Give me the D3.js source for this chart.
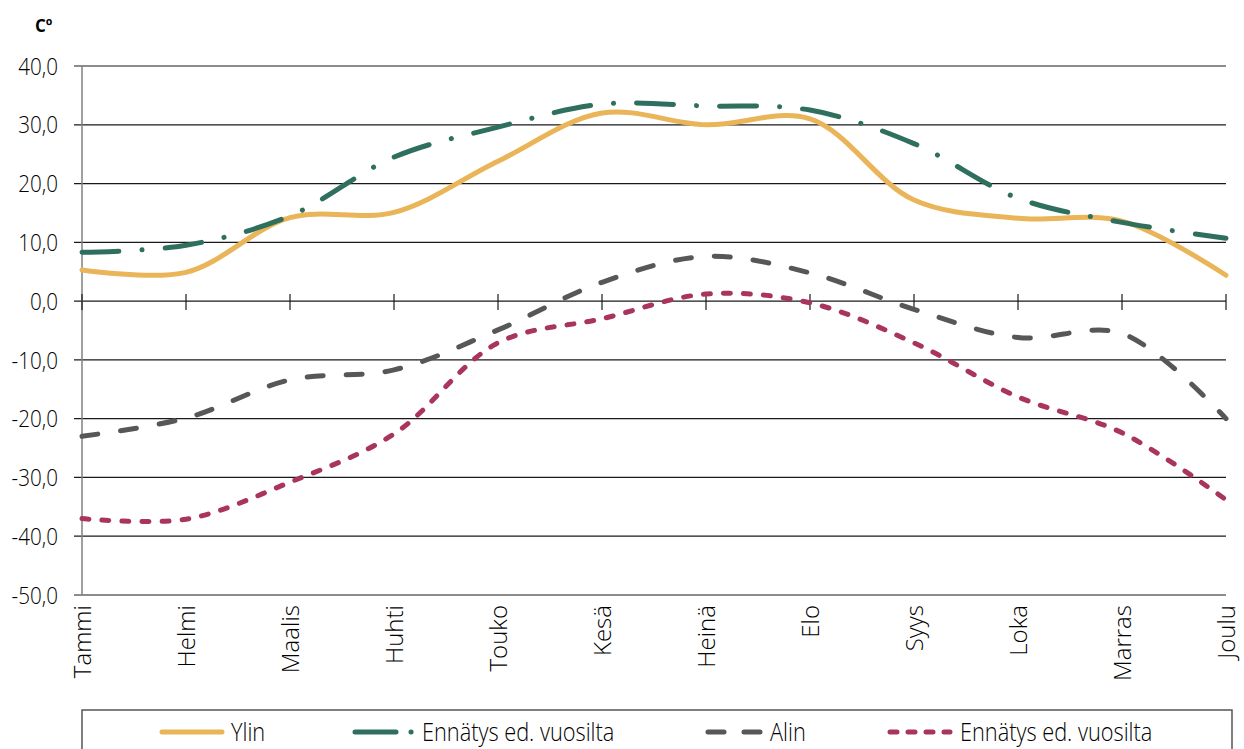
<!DOCTYPE html>
<html>
<head>
<meta charset="utf-8">
<script src="https://cdn.jsdelivr.net/npm/d3@7"></script>
<style>
  body { margin: 0; background: #fff; }
  text { font-family: "Open Sans", "Noto Sans", sans-serif; font-weight: 300; }
</style>
</head>
<body>
<div id="chart"></div>
<script>
// months and series values (deg C)
const months = ["Tammi", "Helmi", "Maalis", "Huhti", "Touko", "Kesä", "Heinä", "Elo", "Syys", "Loka", "Marras", "Joulu"];
const ylin = [5.3, 4.9, 14.2, 15.1, 23.8, 32.0, 30.0, 31.0, 17.2, 14.1, 13.6, 4.4];
const ennatysYla = [8.3, 9.5, 14.5, 24.5, 29.6, 33.5, 33.2, 32.5, 26.8, 17.5, 13.4, 10.7];
const alin = [-23.0, -19.9, -13.4, -11.7, -4.9, 3.2, 7.6, 4.8, -1.4, -6.2, -5.5, -20.0];
const ennatysAla = [-37.0, -37.1, -30.8, -22.6, -7.1, -3.0, 1.2, -0.3, -7.1, -16.3, -22.4, -33.8];
const yTicks = [40, 30, 20, 10, 0, -10, -20, -30, -40, -50];

const series = [
  {name: "Ylin", values: ylin, color: "#EAB459", dash: null},
  {name: "Ennätys ed. vuosilta", values: ennatysYla, color: "#2F6F5E", dash: "37 23 0.1 23"},
  {name: "Alin", values: alin, color: "#575757", dash: "16 23"},
  {name: "Ennätys ed. vuosilta", values: ennatysAla, color: "#A8345F", dash: "7 13"}
];

const W = 1244, H = 749;
const margin = {top: 66, right: 18, bottom: 154, left: 82};
const width = W - margin.left - margin.right,
      height = H - margin.top - margin.bottom;

const svg = d3.select("#chart").append("svg")
    .attr("width", W).attr("height", H);
const g = svg.append("g")
    .attr("transform", `translate(${margin.left}, ${margin.top})`);

const x = d3.scalePoint().domain(months).range([0, width]);
const y = d3.scaleLinear().domain([-50, 40]).range([height, 0]);

// gridlines + left ticks
g.selectAll(".grid")
  .data(yTicks)
  .join("line")
    .attr("x1", -8).attr("x2", width)
    .attr("y1", d => y(d)).attr("y2", d => y(d))
    .attr("stroke", "#1a1a1a").attr("stroke-width", 1.2);

// tick labels, a bit condensed like the original font
g.selectAll(".ylab")
  .data(yTicks)
  .join("text")
    .attr("transform", d => `translate(-24, ${y(d)}) scale(0.86, 1)`)
    .attr("dy", "0.36em")
    .attr("text-anchor", "end")
    .style("font-size", "24px").attr("fill", "#000")
    .text(d => d3.format(".1f")(d).replace(".", ",").replace("−", "-"));

// y axis line
g.append("line")
  .attr("x1", 0).attr("x2", 0).attr("y1", 0).attr("y2", height)
  .attr("stroke", "#808080").attr("stroke-width", 1.5);

// x ticks crossing the zero line
g.selectAll(".xtick")
  .data(months)
  .join("line")
    .attr("x1", d => x(d)).attr("x2", d => x(d))
    .attr("y1", y(0) - 7).attr("y2", y(0) + 9)
    .attr("stroke", "#1a1a1a").attr("stroke-width", 1.2);

// month labels, rotated
g.selectAll(".xlab")
  .data(months)
  .join("text")
    .attr("transform", d => `translate(${x(d) + 9}, ${height + 10}) rotate(-90)`)
    .attr("text-anchor", "end")
    .style("font-size", "24px").attr("fill", "#000")
    .text(d => d);

// unit label
svg.append("text")
  .attr("x", 35).attr("y", 32)
  .style("font-size", "17px").style("font-weight", "bold")
  .text("Cº");

// lines
const line = d3.line()
  .x((d, i) => x(months[i]))
  .y(d => y(d))
  .curve(d3.curveCatmullRom.alpha(0.5));

g.selectAll(".series")
  .data(series)
  .join("path")
    .attr("d", d => line(d.values))
    .attr("fill", "none")
    .attr("stroke", d => d.color)
    .attr("stroke-width", 5)
    .attr("stroke-linecap", "round")
    .attr("stroke-dasharray", d => d.dash);

// legend
const lg = svg.append("g");
lg.append("rect")
  .attr("x", 82).attr("y", 710).attr("width", 1150).attr("height", 60)
  .attr("fill", "none").attr("stroke", "#555").attr("stroke-width", 1.5);

const legendPos = [162, 355, 708, 890];
const legendText = [231, 422, 770, 960];
series.forEach((s, i) => {
  const x0 = legendPos[i];
  lg.append("line")
    .attr("x1", x0).attr("x2", x0 + 60)
    .attr("y1", 732).attr("y2", 732)
    .attr("stroke", s.color).attr("stroke-width", 5)
    .attr("stroke-linecap", "round")
    .attr("stroke-dasharray", i === 1 ? "41 15 0.1 40" : i === 2 ? "16 20" : i === 3 ? "7 11" : null);
  lg.append("text")
    .attr("transform", `translate(${legendText[i]}, 732) scale(0.87, 1)`)
    .attr("dy", "0.36em")
    .style("font-size", "25px").attr("fill", "#000")
    .text(s.name);
});
</script>
</body>
</html>
